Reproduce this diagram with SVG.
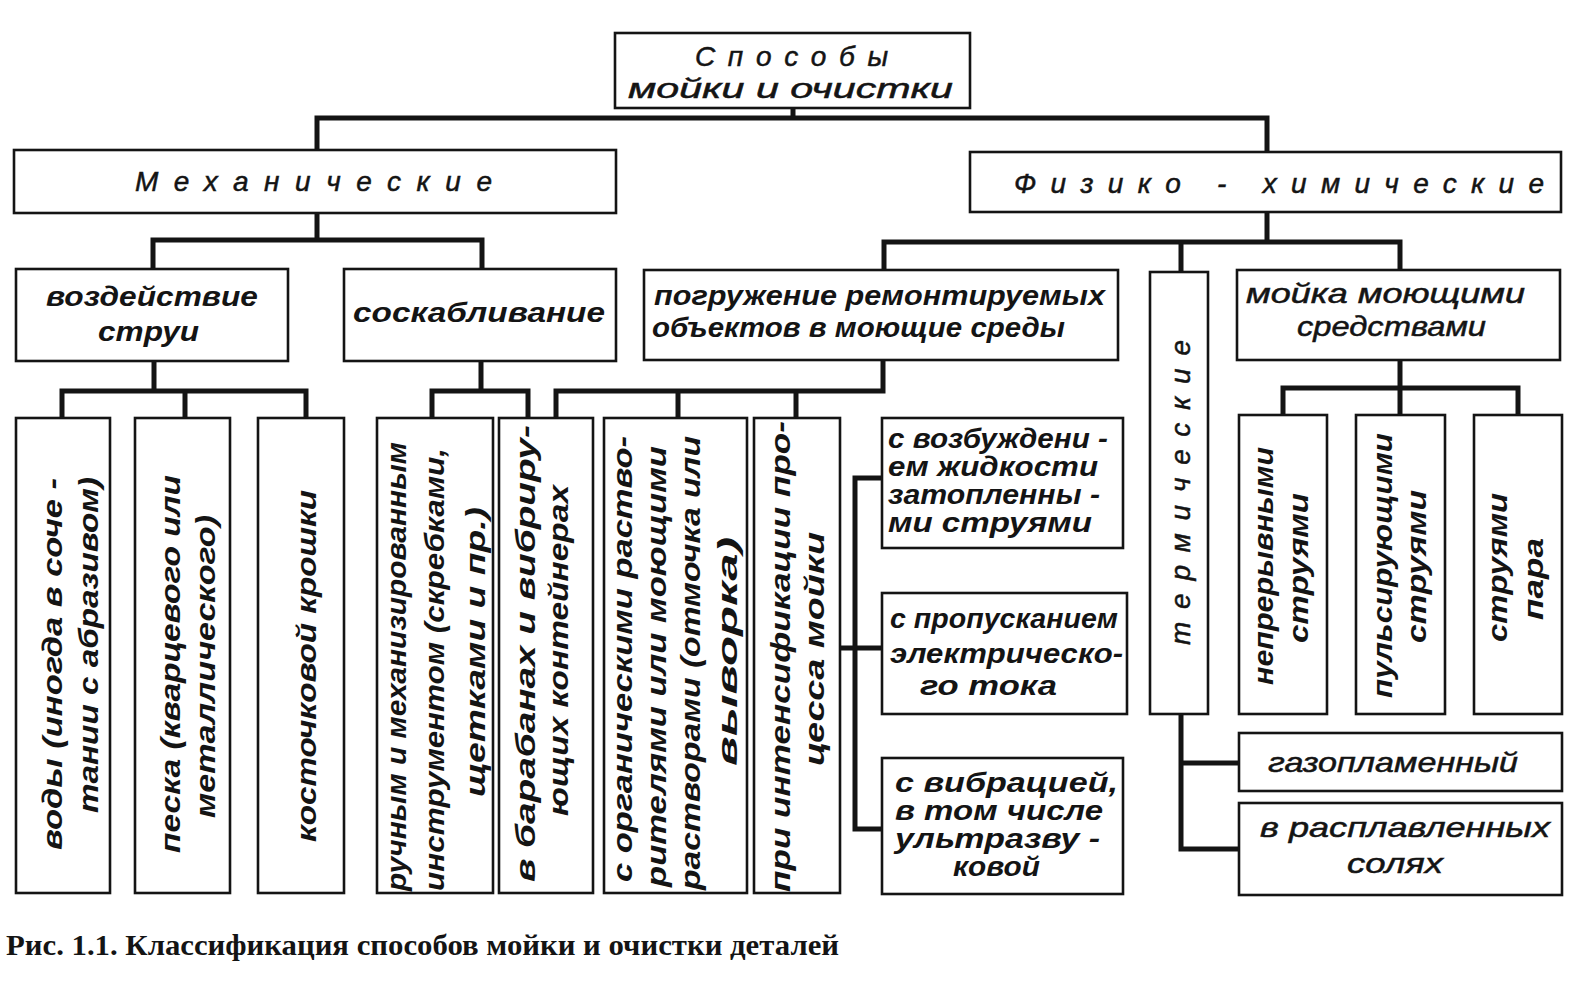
<svg xmlns="http://www.w3.org/2000/svg" width="1590" height="991" viewBox="0 0 1590 991">
<style>
.bx{fill:#fff;stroke:#141414;stroke-width:2.6}
.cn{fill:none;stroke:#141414;stroke-width:5;stroke-linecap:square}
.t{font-family:"Liberation Sans","DejaVu Sans",sans-serif;font-style:italic;font-size:28px;fill:#141414}
.b{font-weight:bold}
.m{stroke:#141414;stroke-width:0.5}
.cap{font-family:"Liberation Serif","DejaVu Serif",serif;font-weight:bold;font-size:30px;fill:#141414}
</style>
<rect width="1590" height="991" fill="#fff"/>
<g id="connectors" class="cn">
<path d="M793 108V118M317 118H1267M317 118V150M1267 118V152"/>
<path d="M317 213V240M153 240H482M153 240V269M482 240V269"/>
<path d="M1267 212V242M884 242H1400M884 242V270M1181 242V272M1400 242V270"/>
<path d="M154 361V391M62 391H306M62 391V418M185 391V418M306 391V418"/>
<path d="M481 361V391M432 391H528M432 391V418M528 391V418"/>
<path d="M883 360V391M556 391H883M556 391V418M678 391V418M796 391V418"/>
<path d="M1400 360V388M1283 388H1518M1283 388V415M1400 388V415M1518 388V415"/>
<path d="M840 648H882M855 478V829M855 478H882M855 829H882"/>
<path d="M1181 714V849M1181 763H1239M1181 849H1239"/>
</g>
<g id="n_root"><rect class="bx" x="615" y="33" width="355" height="75"/>
<text class="t m" x="695" y="66" font-size="30" textLength="193">Способы</text>
<text class="t m" x="628" y="98" font-size="31" textLength="325" lengthAdjust="spacingAndGlyphs">мойки и очистки</text></g>
<g id="n_mech"><rect class="bx" x="14" y="150" width="602" height="63"/>
<text class="t m" x="135" y="191" textLength="357">Механические</text></g>
<g id="n_phys"><rect class="bx" x="970" y="152" width="591" height="60"/>
<text class="t m" x="1014" y="193" textLength="530">Физико - химические</text></g>
<g id="n_jet"><rect class="bx" x="16" y="269" width="272" height="92"/>
<text class="t b" x="46" y="306" textLength="212" lengthAdjust="spacingAndGlyphs">воздействие</text>
<text class="t b" x="98" y="341" textLength="101" lengthAdjust="spacingAndGlyphs">струи</text></g>
<g id="n_scrape"><rect class="bx" x="344" y="269" width="272" height="92"/>
<text class="t b" x="353" y="322" textLength="252" lengthAdjust="spacingAndGlyphs">соскабливание</text></g>
<g id="n_immerse"><rect class="bx" x="644" y="270" width="474" height="90"/>
<text class="t b" x="654" y="305" textLength="451" lengthAdjust="spacingAndGlyphs">погружение ремонтируемых</text>
<text class="t b" x="652" y="337" textLength="413" lengthAdjust="spacingAndGlyphs">объектов в моющие  среды</text></g>
<g id="n_thermal"><rect class="bx" x="1150" y="272" width="58" height="442"/>
<text class="t m" transform="translate(1190,645) rotate(-90)" font-size="30" textLength="305">термические</text></g>
<g id="n_detergent"><rect class="bx" x="1237" y="270" width="323" height="90"/>
<text class="t m" x="1246" y="303" textLength="279" lengthAdjust="spacingAndGlyphs">мойка моющими</text>
<text class="t m" x="1297" y="336" textLength="189" lengthAdjust="spacingAndGlyphs">средствами</text></g>
<g id="n_water"><rect class="bx" x="16" y="418" width="94" height="475"/>
<text class="t b" transform="translate(62,850) rotate(-90)" font-size="30" textLength="372" lengthAdjust="spacingAndGlyphs">воды (иногда в соче -</text>
<text class="t b" transform="translate(98,813) rotate(-90)" font-size="30" textLength="336" lengthAdjust="spacingAndGlyphs">тании с абразивом)</text></g>
<g id="n_sand"><rect class="bx" x="135" y="418" width="95" height="475"/>
<text class="t b" transform="translate(180,853) rotate(-90)" font-size="30" textLength="378" lengthAdjust="spacingAndGlyphs">песка (кварцевого или</text>
<text class="t b" transform="translate(215,818) rotate(-90)" font-size="30" textLength="303" lengthAdjust="spacingAndGlyphs">металлического)</text></g>
<g id="n_stone"><rect class="bx" x="258" y="418" width="86" height="475"/>
<text class="t b" transform="translate(316,842) rotate(-90)" font-size="30" textLength="352" lengthAdjust="spacingAndGlyphs">косточковой крошки</text></g>
<g id="n_manual"><rect class="bx" x="377" y="418" width="116" height="475"/>
<text class="t b" transform="translate(406,891) rotate(-90)" font-size="29" textLength="449" lengthAdjust="spacingAndGlyphs">ручным и механизированным</text>
<text class="t b" transform="translate(444,891) rotate(-90)" font-size="29" textLength="443" lengthAdjust="spacingAndGlyphs">инструментом (скребками,</text>
<text class="t b" transform="translate(485,797) rotate(-90)" font-size="29" textLength="290" lengthAdjust="spacingAndGlyphs">щетками и пр.)</text></g>
<g id="n_drum"><rect class="bx" x="499" y="418" width="94" height="475"/>
<text class="t b" transform="translate(535,882) rotate(-90)" font-size="30" textLength="457" lengthAdjust="spacingAndGlyphs">в барабанах и вибриру-</text>
<text class="t b" transform="translate(568,816) rotate(-90)" font-size="30" textLength="331" lengthAdjust="spacingAndGlyphs">ющих контейнерах</text></g>
<g id="n_solvent"><rect class="bx" x="604" y="418" width="143" height="475"/>
<text class="t b" transform="translate(632,882) rotate(-90)" font-size="28" textLength="446" lengthAdjust="spacingAndGlyphs">с органическими раство-</text>
<text class="t b" transform="translate(666,887) rotate(-90)" font-size="28" textLength="441" lengthAdjust="spacingAndGlyphs">рителями или моющими</text>
<text class="t b" transform="translate(700,890) rotate(-90)" font-size="28" textLength="454" lengthAdjust="spacingAndGlyphs">растворами (отмочка или</text>
<text class="t b" transform="translate(737,766) rotate(-90)" font-size="28" textLength="229" lengthAdjust="spacingAndGlyphs">выворка)</text></g>
<g id="n_intens"><rect class="bx" x="754" y="418" width="86" height="475"/>
<text class="t b" transform="translate(790,892) rotate(-90)" font-size="30" textLength="471" lengthAdjust="spacingAndGlyphs">при интенсификации про-</text>
<text class="t b" transform="translate(824,766) rotate(-90)" font-size="30" textLength="234" lengthAdjust="spacingAndGlyphs">цесса мойки</text></g>
<g id="n_excite"><rect class="bx" x="882" y="418" width="241" height="130"/>
<text class="t b" x="888" y="448" font-size="24" textLength="220" lengthAdjust="spacingAndGlyphs">с возбуждени -</text>
<text class="t b" x="888" y="476" font-size="24" textLength="210" lengthAdjust="spacingAndGlyphs">ем жидкости</text>
<text class="t b" x="888" y="504" font-size="24" textLength="212" lengthAdjust="spacingAndGlyphs">затопленны -</text>
<text class="t b" x="888" y="532" font-size="24" textLength="204" lengthAdjust="spacingAndGlyphs">ми струями</text></g>
<g id="n_current"><rect class="bx" x="882" y="593" width="245" height="121"/>
<text class="t b" x="890" y="628" font-size="27" textLength="228" lengthAdjust="spacingAndGlyphs">с пропусканием</text>
<text class="t b" x="890" y="663" font-size="27" textLength="233" lengthAdjust="spacingAndGlyphs">электрическо-</text>
<text class="t b" x="920" y="695" font-size="27" textLength="137" lengthAdjust="spacingAndGlyphs">го тока</text></g>
<g id="n_vibr"><rect class="bx" x="882" y="758" width="241" height="136"/>
<text class="t b" x="895" y="792" font-size="24" textLength="223" lengthAdjust="spacingAndGlyphs">с вибрацией,</text>
<text class="t b" x="895" y="820" font-size="24" textLength="208" lengthAdjust="spacingAndGlyphs">в том числе</text>
<text class="t b" x="895" y="848" font-size="24" textLength="205" lengthAdjust="spacingAndGlyphs">ультразву -</text>
<text class="t b" x="953" y="876" font-size="24" textLength="87" lengthAdjust="spacingAndGlyphs">ковой</text></g>
<g id="n_cont"><rect class="bx" x="1239" y="415" width="88" height="299"/>
<text class="t b" transform="translate(1273,685) rotate(-90)" font-size="29" textLength="238" lengthAdjust="spacingAndGlyphs">непрерывными</text>
<text class="t b" transform="translate(1308,643) rotate(-90)" font-size="29" textLength="150" lengthAdjust="spacingAndGlyphs">струями</text></g>
<g id="n_pulse"><rect class="bx" x="1356" y="415" width="89" height="299"/>
<text class="t b" transform="translate(1392,698) rotate(-90)" font-size="29" textLength="265" lengthAdjust="spacingAndGlyphs">пульсирующими</text>
<text class="t b" transform="translate(1426,643) rotate(-90)" font-size="29" textLength="153" lengthAdjust="spacingAndGlyphs">струями</text></g>
<g id="n_steam"><rect class="bx" x="1474" y="415" width="88" height="299"/>
<text class="t b" transform="translate(1507,642) rotate(-90)" font-size="29" textLength="149" lengthAdjust="spacingAndGlyphs">струями</text>
<text class="t b" transform="translate(1543,620) rotate(-90)" font-size="29" textLength="82" lengthAdjust="spacingAndGlyphs">пара</text></g>
<g id="n_flame"><rect class="bx" x="1239" y="733" width="323" height="58"/>
<text class="t m" x="1268" y="772" textLength="250" lengthAdjust="spacingAndGlyphs">газопламенный</text></g>
<g id="n_salt"><rect class="bx" x="1239" y="803" width="323" height="92"/>
<text class="t m" x="1260" y="837" textLength="290" lengthAdjust="spacingAndGlyphs">в расплавленных</text>
<text class="t m" x="1347" y="873" textLength="96" lengthAdjust="spacingAndGlyphs">солях</text></g>
<text class="cap" x="6" y="955" textLength="833" lengthAdjust="spacingAndGlyphs">Рис. 1.1. Классификация способов мойки и очистки деталей</text>
</svg>
